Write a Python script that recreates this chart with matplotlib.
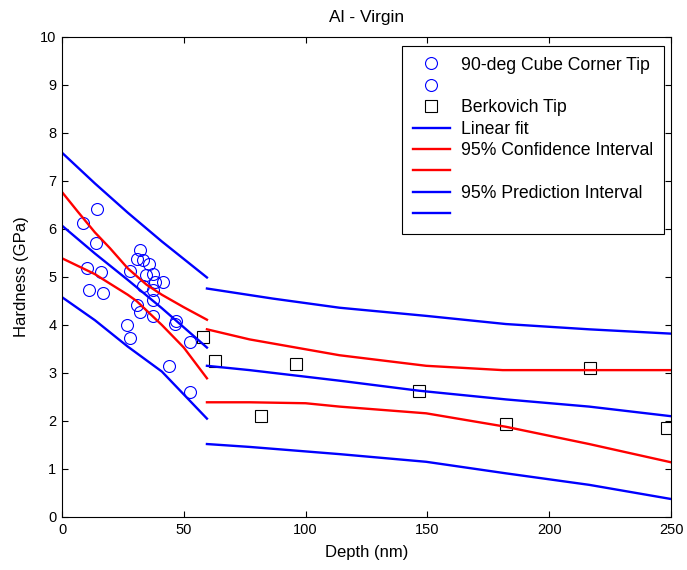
import matplotlib
matplotlib.use('Agg')
import matplotlib.pyplot as plt

plt.rcParams['font.family'] = ['Liberation Sans', 'DejaVu Sans']

# Cube corner tip data (two sets, same style)
cube_a_depth = [14.2, 8.7, 13.9, 32.0, 30.9, 33.1, 35.8, 27.9, 10.1, 15.9, 34.4, 37.4, 41.3, 38.1, 33.3]
cube_a_hard = [6.41, 6.12, 5.71, 5.56, 5.38, 5.35, 5.27, 5.13, 5.18, 5.11, 5.04, 5.06, 4.90, 4.90, 4.81]
cube_b_depth = [37.2, 11.2, 16.9, 37.2, 30.9, 32.0, 37.2, 47.0, 46.3, 26.8, 27.9, 52.7, 44.0, 52.7]
cube_b_hard = [4.73, 4.73, 4.66, 4.52, 4.42, 4.28, 4.19, 4.09, 4.02, 3.99, 3.72, 3.64, 3.15, 2.60]

# Berkovich tip data
berk_depth = [57.7, 62.7, 81.7, 96.2, 146.7, 182.2, 216.7, 248.5]
berk_hard = [3.74, 3.25, 2.10, 3.18, 2.63, 1.93, 3.10, 1.85]

# Cube corner fit and intervals (left segment)
cc_x = [0, 13.5, 27, 41, 59.5]
cc_fit = [6.07, 5.49, 4.94, 4.35, 3.53]
cc_pi_up = [7.59, 6.95, 6.34, 5.74, 4.99]
cc_pi_lo = [4.58, 4.10, 3.55, 3.03, 2.05]
cc_ci_up_x = [0, 6.5, 13.5, 19.7, 27, 34.7, 41, 50, 59.5]
cc_ci_up = [6.77, 6.36, 5.93, 5.60, 5.18, 4.84, 4.63, 4.37, 4.11]
cc_ci_lo_x = [0, 13.5, 16.9, 27, 30.6, 41, 50, 59.5]
cc_ci_lo = [5.39, 5.06, 4.95, 4.63, 4.50, 4.00, 3.53, 2.89]

# Berkovich fit and intervals (right segment)
bk_fit_x = [59.5, 77, 113.9, 146.7, 182.2, 216.4, 250]
bk_fit = [3.15, 3.06, 2.84, 2.63, 2.45, 2.30, 2.10]
bk_ci_up_x = [59.5, 77, 113.9, 149.5, 180.9, 250]
bk_ci_up = [3.91, 3.70, 3.37, 3.15, 3.06, 3.06]
bk_ci_lo_x = [59.5, 77, 100, 113.9, 149.5, 182.2, 216.4, 250]
bk_ci_lo = [2.39, 2.39, 2.37, 2.30, 2.16, 1.88, 1.52, 1.14]
bk_pi_up_x = [59.5, 86.6, 113.9, 149.5, 182.2, 216.4, 250]
bk_pi_up = [4.76, 4.55, 4.36, 4.19, 4.02, 3.91, 3.82]
bk_pi_lo_x = [59.5, 77, 113.9, 149.5, 182.2, 216.4, 250]
bk_pi_lo = [1.52, 1.46, 1.31, 1.15, 0.91, 0.67, 0.375]

fig = plt.figure(figsize=(6.87, 5.7), dpi=100)
ax = fig.add_axes([62 / 687, 53 / 570, 609 / 687, 480 / 570])

lw = 1.7
circ = dict(ls='none', marker='o', ms=8.6, mfc='none', mec='#0000ff', mew=0.8)
sq = dict(ls='none', marker='s', ms=8.4, mfc='none', mec='k', mew=0.8)

h1, = ax.plot(cube_a_depth, cube_a_hard, **circ)
h2, = ax.plot(cube_b_depth, cube_b_hard, **circ)
h3, = ax.plot(berk_depth, berk_hard, **sq)

hf, = ax.plot(cc_x, cc_fit, color='#0000ff', lw=lw)
hc1, = ax.plot(cc_ci_up_x, cc_ci_up, color='#ff0000', lw=lw)
hc2, = ax.plot(cc_ci_lo_x, cc_ci_lo, color='#ff0000', lw=lw)
hp1, = ax.plot(cc_x, cc_pi_up, color='#0000ff', lw=lw)
hp2, = ax.plot(cc_x, cc_pi_lo, color='#0000ff', lw=lw)

ax.plot(bk_fit_x, bk_fit, color='#0000ff', lw=lw)
ax.plot(bk_ci_up_x, bk_ci_up, color='#ff0000', lw=lw)
ax.plot(bk_ci_lo_x, bk_ci_lo, color='#ff0000', lw=lw)
ax.plot(bk_pi_up_x, bk_pi_up, color='#0000ff', lw=lw)
ax.plot(bk_pi_lo_x, bk_pi_lo, color='#0000ff', lw=lw)

ax.set_xlim(0, 250)
ax.set_ylim(0, 10)
ax.set_xticks([0, 50, 100, 150, 200, 250])
ax.set_yticks(range(0, 11))
ax.tick_params(direction='in', top=True, right=True, length=4, width=0.8,
               labelsize=10.5, pad=4)
for s in ax.spines.values():
    s.set_linewidth(0.8)

ax.set_title('Al - Virgin', fontsize=12.5, pad=11)
ax.set_xlabel('Depth (nm)', fontsize=12, labelpad=6)
ax.set_ylabel('Hardness (GPa)', fontsize=12, labelpad=8)

handles = [h1, h2, h3, hf, hc1, hc2, hp1, hp2]
labels = ['90-deg Cube Corner Tip', '', 'Berkovich Tip', 'Linear fit',
          '95% Confidence Interval', '', '95% Prediction Interval', '']
leg = ax.legend(handles, labels, loc='upper right',
                bbox_to_anchor=((664 - 62) / 609, (517 - 46) / 480),
                borderaxespad=0, fontsize=12.7, numpoints=1, handlelength=2.1,
                handletextpad=0.65, labelspacing=0.25, fancybox=False,
                edgecolor='k', framealpha=1, borderpad=0.6)
leg.get_frame().set_linewidth(0.8)

fig.savefig('out.png', dpi=100)
